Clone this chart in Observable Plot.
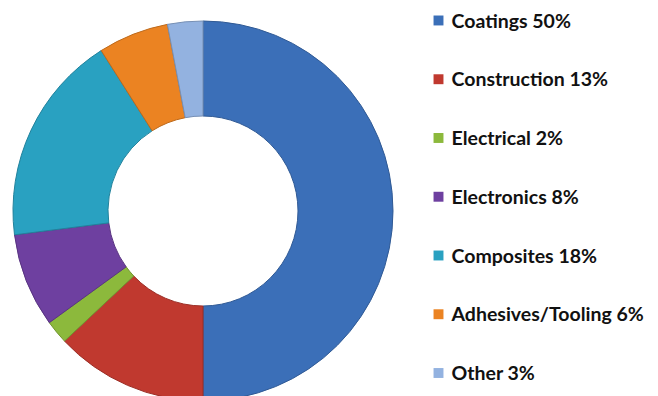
<!DOCTYPE html>
<html>
<head>
<meta charset="utf-8">
<script src="https://cdn.jsdelivr.net/npm/d3@7"></script>
<script src="https://cdn.jsdelivr.net/npm/@observablehq/plot@0.6"></script>
<style>
  html, body { margin: 0; padding: 0; background: #fff; }
  #chart svg { display: block; }
</style>
</head>
<body>
<div id="chart"></div>
<script>
const categories = ["Coatings", "Construction", "Electrical", "Electronics", "Composites", "Adhesives/Tooling", "Other"];
const shares = [50, 13, 2, 8, 18, 6, 3];
const legendLabels = ["Coatings 50%", "Construction 13%", "Electrical 2%", "Electronics 8%", "Composites 18%", "Adhesives/Tooling 6%", "Other 3%"];
const colors = ["#3b6fb8", "#c0392f", "#8cb93c", "#6e40a0", "#29a1c1", "#eb8322", "#93b2e0"];

const data = categories.map((c, i) => ({category: c, share: shares[i], label: legendLabels[i], row: i}));

const W = 658, H = 396;
const cx = 203, cy = 211, rOuter = 190, rInner = 95;

function donut(index, scales, values, dimensions) {
  const pie = d3.pie().value(d => d.share).sort(null).startAngle(0).endAngle(2 * Math.PI);
  const arc = d3.arc().innerRadius(rInner).outerRadius(rOuter);
  const g = d3.create("svg:g").attr("transform", `translate(${cx},${cy})`);
  g.selectAll("path")
    .data(pie(data))
    .join("path")
    .attr("d", arc)
    .attr("fill", d => scales.color(d.data.category))
    .attr("stroke", d => d3.color(scales.color(d.data.category)).darker(0.6).formatHex())
    .attr("stroke-width", 1);
  return g.node();
}

const chart = Plot.plot({
  width: W,
  height: H,
  margin: 0,
  x: {domain: [0, W], range: [0, W], axis: null},
  y: {domain: [-0.34, 6.4], range: [0, H], axis: null},
  color: {domain: categories, range: colors},
  marks: [
    donut,
    Plot.dot(data, {
      x: () => 438,
      y: "row",
      symbol: "square",
      r: 5.6,
      fill: "category"
    }),
    Plot.text(data, {
      x: () => 451,
      y: "row",
      text: "label",
      textAnchor: "start",
      fill: "#111",
      fontSize: 19.5,
      fontWeight: "bold",
      fontFamily: "Lato",
      dy: 1
    })
  ]
});
document.getElementById("chart").append(chart);
</script>
</body>
</html>
